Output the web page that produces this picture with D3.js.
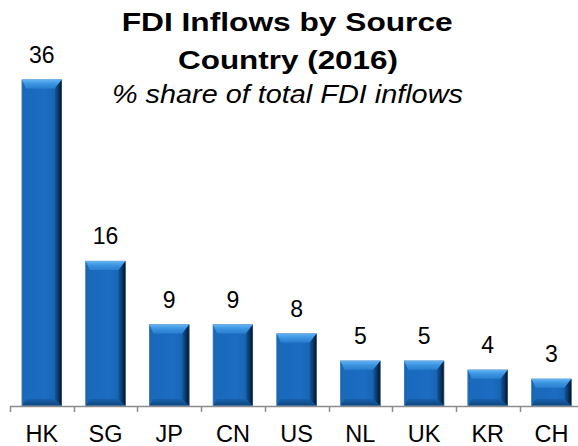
<!DOCTYPE html>
<html>
<head>
<meta charset="utf-8">
<script src="https://cdn.jsdelivr.net/npm/d3@7/dist/d3.min.js"></script>
<style>
  html, body { margin: 0; padding: 0; background: #fff; }
  svg { display: block; font-family: Arial, "Liberation Sans", sans-serif; }
</style>
</head>
<body>
<svg id="chart" width="578" height="446"></svg>
<script>
// FDI inflows by source country, 2016 (% share of total)
const countries = ["HK", "SG", "JP", "CN", "US", "NL", "UK", "KR", "CH"];
const shares = [36, 16, 9, 9, 8, 5, 5, 4, 3];
const titleLines = ["FDI Inflows by Source", "Country (2016)"];
const subtitle = "% share of total FDI inflows";

const W = 578, H = 446;
const axisY = 406;

const svg = d3.select("#chart");

const x = d3.scaleBand()
  .domain(countries)
  .range([10, 583.3])
  .paddingInner(0.37)
  .paddingOuter(0.185);

const y = d3.scaleLinear()
  .domain([0, 36])
  .range([axisY, 79.5]);

// gradients for the bevelled bar faces
const defs = svg.append("defs");
function grad(id, x1, y1, x2, y2, stops) {
  const g = defs.append("linearGradient").attr("id", id)
    .attr("x1", x1).attr("y1", y1).attr("x2", x2).attr("y2", y2);
  stops.forEach(([o, c]) => g.append("stop").attr("offset", o).attr("stop-color", c));
}
grad("gFront", 0, 0, 1, 0, [[0, "#1968bb"], [0.6, "#1b6dc3"], [1, "#155ea9"]]);
grad("gTop", 0, 0, 0, 1, [[0, "#62b6f5"], [0.5, "#3b93e0"], [1, "#2a7fd0"]]);
grad("gRight", 0, 0, 1, 0, [[0, "#13569a"], [0.5, "#0a3766"], [1, "#020e20"]]);
grad("gLeft", 0, 0, 1, 0, [[0, "#1862ad"], [1, "#1c6bbd"]]);
grad("gBottom", 0, 0, 0, 1, [[0, "#1862ad"], [1, "#0c437a"]]);

const bars = svg.append("g").attr("class", "bars")
  .selectAll("g")
  .data(countries.map((c, i) => ({ c, v: shares[i] })))
  .join("g");

bars.each(function (d) {
  const g = d3.select(this);
  const x0 = x(d.c), x1 = x0 + x.bandwidth();
  const y0 = y(d.v), y1 = y(0);
  const h = y1 - y0;
  const bt = Math.min(9, h / 2), bb = Math.min(7, h / 2);
  const bl = 4, br = 7;
  const pts = a => a.map(p => p.join(",")).join(" ");
  // front face
  g.append("rect").attr("x", x0).attr("y", y0).attr("width", x1 - x0).attr("height", h)
    .attr("fill", "url(#gFront)");
  // top bevel
  g.append("polygon").attr("points", pts([[x0, y0], [x1, y0], [x1 - br, y0 + bt], [x0 + bl, y0 + bt]]))
    .attr("fill", "url(#gTop)");
  // bottom bevel
  g.append("polygon").attr("points", pts([[x0 + bl, y1 - bb], [x1 - br, y1 - bb], [x1, y1], [x0, y1]]))
    .attr("fill", "url(#gBottom)");
  // left bevel
  g.append("polygon").attr("points", pts([[x0, y0], [x0 + bl, y0 + bt], [x0 + bl, y1 - bb], [x0, y1]]))
    .attr("fill", "url(#gLeft)");
  // right bevel
  g.append("polygon").attr("points", pts([[x1, y0], [x1, y1], [x1 - br, y1 - bb], [x1 - br, y0 + bt]]))
    .attr("fill", "url(#gRight)");
  // thin outline
  g.append("rect").attr("x", x0 + 0.25).attr("y", y0 + 0.25).attr("width", x1 - x0 - 0.5).attr("height", h - 0.5)
    .attr("fill", "none").attr("stroke", "#7fa8d4").attr("stroke-width", 0.5).attr("stroke-opacity", 0.7);
});

// value labels
svg.append("g").attr("class", "values")
  .selectAll("text")
  .data(countries.map((c, i) => ({ c, v: shares[i] })))
  .join("text")
  .attr("x", d => x(d.c) + x.bandwidth() / 2)
  .attr("y", d => y(d.v) - 16.5)
  .attr("text-anchor", "middle")
  .attr("font-size", 23)
  .attr("fill", "#000")
  .text(d => d.v);

// category axis: line with ticks between categories
const step = x.step();
const tickXs = countries.map(c => x(c) - step * x.paddingInner() / 2);
tickXs.push(tickXs[tickXs.length - 1] + step);
const axis = svg.append("g").attr("class", "axis");
axis.append("line").attr("x1", tickXs[0]).attr("x2", W).attr("y1", axisY + 0.5).attr("y2", axisY + 0.5)
  .attr("stroke", "#8c8c8c").attr("stroke-width", 1.5);
axis.selectAll("line.tick").data(tickXs).join("line").attr("class", "tick")
  .attr("x1", d => Math.round(d) + 0.5).attr("x2", d => Math.round(d) + 0.5)
  .attr("y1", axisY).attr("y2", axisY + 6)
  .attr("stroke", "#8c8c8c").attr("stroke-width", 1.5);

const labelAxis = svg.append("g")
  .attr("transform", `translate(0,${axisY})`)
  .call(d3.axisBottom(x).tickSize(0).tickPadding(0));
labelAxis.select(".domain").remove();
labelAxis.selectAll("text")
  .attr("dy", null)
  .attr("y", 36)
  .attr("font-size", 23.5)
  .attr("font-family", "Arial, 'Liberation Sans', sans-serif")
  .attr("fill", "#000");

// titles
svg.append("text").attr("x", 287.2).attr("y", 30.7).attr("text-anchor", "middle")
  .attr("font-size", 26).attr("font-weight", "bold")
  .attr("textLength", 331).attr("lengthAdjust", "spacingAndGlyphs")
  .text(titleLines[0]);
svg.append("text").attr("x", 288).attr("y", 68.5).attr("text-anchor", "middle")
  .attr("font-size", 26).attr("font-weight", "bold")
  .attr("textLength", 220).attr("lengthAdjust", "spacingAndGlyphs")
  .text(titleLines[1]);
svg.append("text").attr("x", 287.4).attr("y", 103).attr("text-anchor", "middle")
  .attr("font-size", 25).attr("font-style", "italic")
  .attr("textLength", 351).attr("lengthAdjust", "spacingAndGlyphs")
  .text(subtitle);
</script>
</body>
</html>
